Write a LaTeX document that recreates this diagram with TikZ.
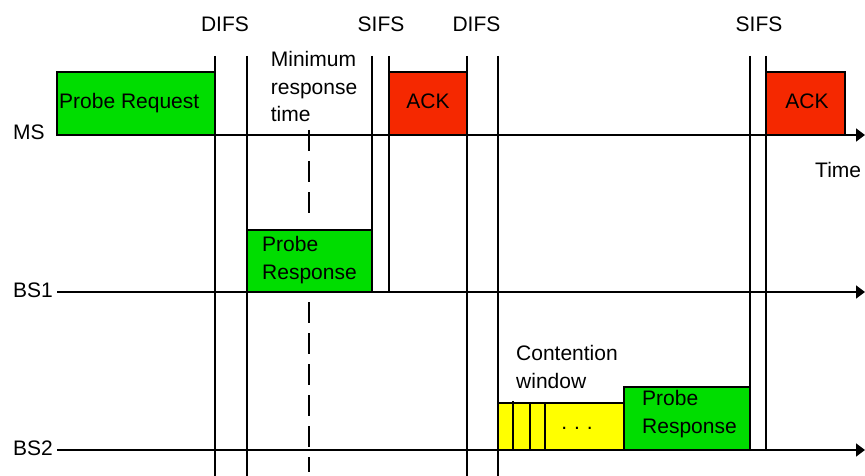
\documentclass[tikz,border=0pt]{standalone}
\usepackage{fontspec}
\setmainfont{Liberation Sans}
\usetikzlibrary{arrows.meta}
\definecolor{pgreen}{RGB}{0,221,0}
\definecolor{pred}{RGB}{245,40,0}
\definecolor{pyellow}{RGB}{255,255,0}
\begin{document}
\begin{tikzpicture}[x=1pt,y=-1pt,
  lbl/.style={anchor=base west, inner sep=0pt, font=\fontsize{21}{27.5}\selectfont, align=left},
  clbl/.style={anchor=base, inner sep=0pt, font=\fontsize{21}{27.5}\selectfont},
  axis/.style={line width=1.6pt, -{Triangle[length=9pt,width=13pt]}},
  vline/.style={line width=1.6pt},
  box/.style={draw, line width=1.6pt, inner sep=0pt, outer sep=0pt, anchor=north west},
  dashv/.style={line width=1.1pt, dash pattern=on 21pt off 10pt}]
\useasboundingbox (0,0) rectangle (865,476);

% vertical time markers
\draw[vline] (215,56) -- (215,476);
\draw[vline] (247,56) -- (247,476);
\draw[vline] (372,56) -- (372,292);
\draw[vline] (389,56) -- (389,292);
\draw[vline] (467,56) -- (467,476);
\draw[vline] (498,56) -- (498,476);
\draw[vline] (750,56) -- (750,450);
\draw[vline] (766,56) -- (766,450);

% minimum response time marker
\draw[dashv] (309,130) -- (309,216);
\draw[dashv] (309,302) -- (309,472);

% frames
\node[box, fill=pgreen, minimum width=158pt, minimum height=63pt] (preq) at (57,72) {};
\node[box, fill=pred, minimum width=78pt, minimum height=63pt] (ack1) at (389,72) {};
\node[box, fill=pred, minimum width=79pt, minimum height=63pt] (ack2) at (766,72) {};
\node[box, fill=pgreen, minimum width=125pt, minimum height=62pt] (presp1) at (247,230) {};
\node[box, fill=pyellow, minimum width=126pt, minimum height=47pt] (cw) at (498,403) {};
\node[box, fill=pgreen, minimum width=126pt, minimum height=63pt] (presp2) at (624,387) {};

% contention window slots
\draw[vline] (513,401) -- (513,450);
\draw[vline] (530,403) -- (530,450);
\draw[vline] (545,403) -- (545,450);

% time axes
\draw[axis] (57,135) -- (865,135);
\draw[axis] (57,292) -- (865,292);
\draw[axis] (57,450) -- (865,450);

% labels
\node[lbl] (tms) at (13,140) {MS};
\node[lbl] (tbs1) at (13,297) {BS1};
\node[lbl] (tbs2) at (13,455) {BS2};
\node[lbl] (ttime) at (815,178) {Time};

\node[clbl] (difs1) at (225,32) {DIFS};
\node[clbl] (sifs1) at (381,32) {SIFS};
\node[clbl] (difs2) at (476.5,32) {DIFS};
\node[clbl] (sifs2) at (759,32) {SIFS};

\node[lbl] (tpreq) at (59,109) {Probe Request};
\node[clbl] (tack1) at (428,109) {ACK};
\node[clbl] (tack2) at (807,109) {ACK};
\node[lbl] (tpresp1) at (262,279) {Probe\\Response};
\node[lbl] (tpresp2) at (642,433) {Probe\\Response};
\node[lbl] (tmin) at (270.7,122) {Minimum\\response\\time};
\node[lbl] (tcw) at (516,388) {Contention\\window};
\node[clbl] (tdots) at (577,429) {.\,\,.\,\,.};
\end{tikzpicture}
\end{document}
